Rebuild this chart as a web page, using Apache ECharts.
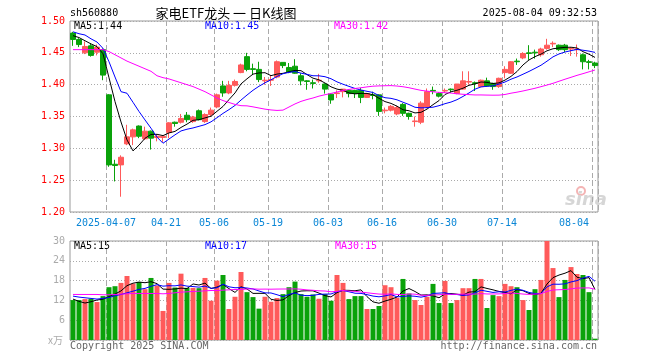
<!DOCTYPE html>
<html><head><meta charset="utf-8">
<script src="https://cdn.jsdelivr.net/npm/echarts@6/dist/echarts.min.js"></script>
<style>html,body{margin:0;padding:0;background:#fff}#c{width:660px;height:360px}</style>
</head><body><div id="c"></div>
<script>
// ---- data ----
const dates = ['03-27','03-28','03-31','04-01','04-02','04-03','04-07','04-08','04-09','04-10','04-11',
'04-14','04-15','04-16','04-17','04-18','04-21','04-22','04-23','04-24','04-25','04-28','04-29','04-30',
'05-06','05-07','05-08','05-09','05-12','05-13','05-14','05-15','05-16','05-19','05-20','05-21','05-22','05-23',
'05-26','05-27','05-28','05-29','05-30','06-03','06-04','06-05','06-06','06-09','06-10','06-11','06-12','06-13',
'06-16','06-17','06-18','06-19','06-20','06-23','06-24','06-25','06-26','06-27','06-30','07-01','07-02','07-03','07-04',
'07-07','07-08','07-09','07-10','07-11','07-14','07-15','07-16','07-17','07-18','07-21','07-22','07-23','07-24','07-25',
'07-28','07-29','07-30','07-31','08-01','08-04'];
const opens = [1.481,1.471,1.450,1.461,1.451,1.455,1.384,1.275,1.274,1.307,1.318,1.335,1.315,1.327,1.317,1.317,
1.325,1.341,1.341,1.352,1.342,1.359,1.342,1.353,1.365,1.398,1.387,1.399,1.419,1.444,1.425,1.424,1.406,1.407,
1.412,1.435,1.427,1.429,1.414,1.406,1.403,1.406,1.401,1.385,1.386,1.389,1.391,1.391,1.391,1.380,1.384,1.384,
1.359,1.360,1.354,1.369,1.355,1.342,1.341,1.365,1.391,1.386,1.390,1.393,1.386,1.393,1.404,1.403,1.397,1.406,
1.402,1.397,1.419,1.418,1.437,1.442,1.450,1.451,1.447,1.457,1.464,1.462,1.462,1.456,1.455,1.447,1.436,1.434];
const closes = [1.471,1.463,1.460,1.446,1.459,1.415,1.274,1.273,1.286,1.318,1.329,1.319,1.327,1.316,1.319,1.319,
1.340,1.339,1.347,1.345,1.349,1.345,1.353,1.360,1.384,1.387,1.399,1.405,1.431,1.424,1.424,1.408,1.407,1.408,
1.436,1.430,1.420,1.418,1.406,1.405,1.402,1.407,1.393,1.376,1.387,1.393,1.386,1.386,1.380,1.386,1.383,1.358,
1.360,1.366,1.364,1.355,1.350,1.343,1.371,1.389,1.390,1.382,1.391,1.392,1.401,1.406,1.405,1.402,1.407,1.398,
1.397,1.410,1.424,1.436,1.436,1.449,1.449,1.450,1.456,1.462,1.465,1.455,1.455,1.457,1.456,1.436,1.435,1.430];
const lows = [1.461,1.459,1.448,1.444,1.446,1.407,1.271,1.248,1.224,1.305,1.305,1.316,1.313,1.298,1.311,1.310,
1.316,1.334,1.339,1.341,1.340,1.344,1.340,1.350,1.363,1.381,1.385,1.397,1.418,1.421,1.415,1.404,1.400,1.398,
1.410,1.426,1.418,1.417,1.399,1.392,1.394,1.403,1.386,1.370,1.379,1.380,1.380,1.379,1.371,1.379,1.377,1.351,
1.355,1.358,1.352,1.351,1.345,1.334,1.338,1.363,1.385,1.380,1.387,1.387,1.385,1.392,1.400,1.390,1.396,1.397,
1.392,1.395,1.410,1.417,1.431,1.440,1.439,1.441,1.444,1.455,1.459,1.453,1.451,1.445,1.444,1.424,1.424,1.426];
const highs = [1.483,1.473,1.468,1.465,1.463,1.457,1.385,1.282,1.289,1.337,1.331,1.336,1.334,1.328,1.322,1.321,
1.341,1.342,1.354,1.357,1.351,1.361,1.355,1.364,1.386,1.406,1.406,1.408,1.433,1.450,1.433,1.436,1.412,1.415,
1.438,1.435,1.434,1.440,1.418,1.407,1.408,1.417,1.402,1.386,1.391,1.393,1.392,1.392,1.395,1.387,1.389,1.385,
1.364,1.368,1.367,1.371,1.356,1.350,1.374,1.394,1.397,1.388,1.394,1.394,1.401,1.421,1.421,1.405,1.408,1.411,
1.403,1.411,1.429,1.437,1.441,1.451,1.462,1.455,1.458,1.472,1.468,1.463,1.464,1.459,1.463,1.449,1.439,1.436];
const volumes = [12.1,12.1,12.4,12.5,11.5,13.3,16.0,16.3,17.3,19.4,17.1,17.6,15.4,18.8,16.5,8.8,
17.3,15.9,20.1,15.8,15.8,15.7,18.8,11.9,18.0,19.7,9.4,13.1,20.6,14.5,13.0,9.5,13.1,11.6,
12.7,13.9,16.0,17.7,13.9,13.1,13.8,12.5,13.9,11.9,19.7,17.3,12.4,13.3,13.3,9.4,9.4,10.3,
16.6,16.0,12.8,18.5,14.1,12.1,10.6,13.1,17.0,11.2,17.9,11.2,12.1,15.7,15.7,18.5,18.5,9.7,
13.6,13.3,17.0,16.3,16.0,12.1,9.1,15.4,18.2,30.0,21.8,13.0,18.2,22.1,20.0,19.7,14.5,0.4];
// first moving-average points (their windows begin before the chart)
const ma5Head = [1.477,1.474,1.469,1.464];
const ma10Head = [1.483,1.480,1.478,1.472,1.467,1.457,1.436,1.412,1.389];
const ma30Head = [1.455,1.455,1.455,1.455,1.455,1.455,1.452,1.447,1.442,1.437,1.433,1.429,1.425,1.421,
1.414,1.411,1.409,1.406,1.403,1.400,1.397,1.393,1.389,1.384,1.379,1.375,1.372,1.369,1.367];
const volMa5Head = [12.4,11.7,11.2,11.6];
const volMa10Head = [13.3,13.0,12.8,12.6,12.4,12.6,12.9,13.4,13.8];
const volMa30Head = [13.8,13.8,13.8,13.8,13.8,13.7,13.7,13.8,13.9,14.0,14.1,14.1,14.1,14.1,14.1,14.0,
14.1,14.3,14.5,14.6,14.7,14.8,14.9,15.0,15.0,15.1,15.2,15.3,15.3];
const tickIndex = [6,16,24,33,43,52,62,72,87];
const tickText = ['2025-04-07','04-21','05-06','05-19','06-03','06-16','06-30','07-14','08-04'];
const priceTicks = {min:1.20, max:1.50, step:0.05};
const volTicks = {min:0, max:30, step:6};

// ---- build ----
function movingAvg(vals, n, head){
  return vals.map((v,i)=> i<head.length ? head[i] :
    vals.slice(i-n+1,i+1).reduce((a,b)=>a+b,0)/n);
}
const ma5 = movingAvg(closes,5,ma5Head), ma10 = movingAvg(closes,10,ma10Head), ma30 = movingAvg(closes,30,ma30Head);
const vma5 = movingAvg(volumes,5,volMa5Head), vma10 = movingAvg(volumes,10,volMa10Head), vma30 = movingAvg(volumes,30,volMa30Head);
const UP='#ff5a5a', DOWN='#0aa20a';
const tickSet = new Set(tickIndex);
const tickFn = (i)=>tickSet.has(i);
const last = a=>a[a.length-1];
const MONO = '"DejaVu Sans Mono", monospace';
const candle = opens.map((o,i)=>[o,closes[i],lows[i],highs[i]]);
const volData = volumes.map((v,i)=>({value:v,itemStyle:{color: closes[i]>=opens[i]?UP:DOWN}}));

function xAx(gi, showLabel){
  return {type:'category', gridIndex:gi, data:dates, boundaryGap:true,
    axisLine:{show:false}, axisTick:{show:false},
    axisLabel:{show:showLabel, interval:tickFn, color:'#0a86d6', fontFamily:MONO, fontSize:10, margin:6,
      padding:[0,6,0,0], alignMaxLabel:'right',
      formatter:(v,idx)=>{const k=tickIndex.indexOf(idx); return k>=0?tickText[k]:'';}},
    splitLine:{show:true, interval:tickFn, lineStyle:{color:'#aaa', type:[5,3], width:1}}};
}
const txt = (x,y,t,color,extra)=>Object.assign({type:'text', x, y, style:Object.assign({text:t, fill:color,
  font:'10px '+MONO, textVerticalAlign:'middle'}, extra||{})});

const chart = echarts.init(document.getElementById('c'), null, {renderer:'canvas'});
chart.setOption({
  animation:false, backgroundColor:'#fff',
  grid:[{left:70, top:21, width:528, height:191, show:true, borderColor:'#999', borderWidth:1},
        {left:70, top:241, width:528, height:99, show:true, borderColor:'#999', borderWidth:1}],
  xAxis:[xAx(0,true), xAx(1,false)],
  yAxis:[{type:'value', gridIndex:0, min:priceTicks.min, max:priceTicks.max, interval:priceTicks.step,
          axisLine:{show:false}, axisTick:{show:false},
          axisLabel:{color:'#f00', fontFamily:MONO, fontSize:10, margin:5, formatter:v=>v.toFixed(2)},
          splitLine:{lineStyle:{color:'#aaa', type:[1,2]}}},
         {type:'value', gridIndex:1, min:volTicks.min, max:volTicks.max, interval:volTicks.step,
          axisLine:{show:false}, axisTick:{show:false},
          axisLabel:{color:'#aaa', fontFamily:MONO, fontSize:10, margin:5, formatter:v=>v===0?'':String(v)},
          splitLine:{lineStyle:{color:'#aaa', type:[1,2]}}}],
  series:[
    {type:'candlestick', xAxisIndex:0, yAxisIndex:0, data:candle, barWidth:5,
     itemStyle:{color:UP, color0:DOWN, borderColor:UP, borderColor0:DOWN, borderWidth:1}},
    {type:'line', xAxisIndex:0, yAxisIndex:0, data:ma5, symbol:'none', lineStyle:{color:'#000',width:1}},
    {type:'line', xAxisIndex:0, yAxisIndex:0, data:ma10, symbol:'none', lineStyle:{color:'#00f',width:1}},
    {type:'line', xAxisIndex:0, yAxisIndex:0, data:ma30, symbol:'none', lineStyle:{color:'#f0f',width:1}},
    {type:'bar', xAxisIndex:1, yAxisIndex:1, data:volData, barWidth:5},
    {type:'line', xAxisIndex:1, yAxisIndex:1, data:vma5, symbol:'none', lineStyle:{color:'#000',width:1}},
    {type:'line', xAxisIndex:1, yAxisIndex:1, data:vma10, symbol:'none', lineStyle:{color:'#00f',width:1}},
    {type:'line', xAxisIndex:1, yAxisIndex:1, data:vma30, symbol:'none', lineStyle:{color:'#f0f',width:1}}
  ],
  graphic:[
    txt(70,13,'sh560880','#000'),
    txt(226,13,'家电ETF龙头 一 日K线图','#000',{font:'13px "Noto Sans CJK SC"', textAlign:'center'}),
    txt(597,13,'2025-08-04 09:32:53','#000',{textAlign:'right'}),
    txt(74,26,'MA5:'+last(ma5).toFixed(2),'#000'),
    txt(205,26,'MA10:'+last(ma10).toFixed(2),'#00f'),
    txt(334,26,'MA30:'+last(ma30).toFixed(2),'#f0f'),
    txt(74,246,'MA5:'+Math.floor(last(vma5)),'#000'),
    txt(205,246,'MA10:'+Math.floor(last(vma10)),'#00f'),
    txt(335,246,'MA30:'+Math.floor(last(vma30)),'#f0f'),
    txt(63,340,'x万','#aaa',{textAlign:'right', font:'10px "Noto Sans CJK SC"'}),
    txt(70,346,'Copyright 2025 SINA.COM','#666'),
    txt(597,346,'http://finance.sina.com.cn','#666',{textAlign:'right'}),
    {type:'circle', shape:{cx:581, cy:191, r:4}, style:{fill:'none', stroke:'#f4b4b4', lineWidth:2}},
    txt(565,200,'sina','#d6d6d6',{font:'italic bold 18px "DejaVu Sans"'})
  ]
});
</script></body></html>
